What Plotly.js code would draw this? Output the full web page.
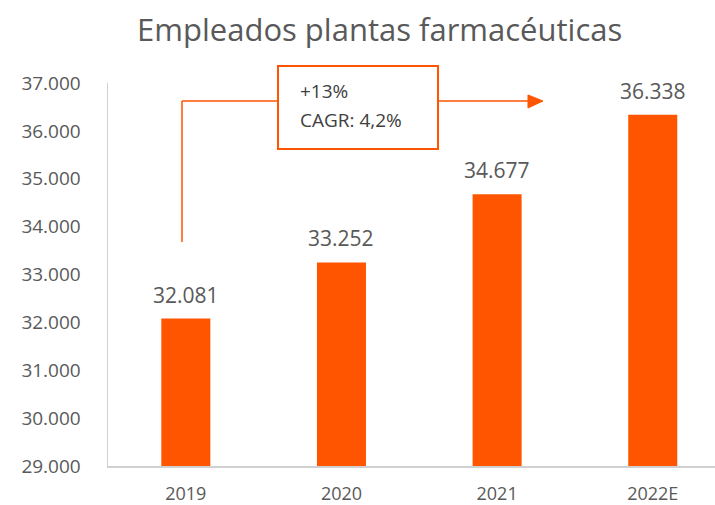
<!DOCTYPE html>
<html><head><meta charset="utf-8">
<script src="https://cdn.plot.ly/plotly-3.0.1.min.js"></script>
<style>html,body{margin:0;padding:0;background:#fff}</style>
</head><body>
<div id="chart" style="width:715px;height:505px"></div>
<script>
const categories = ["2019", "2020", "2021", "2022E"];
const empleados = [32081, 33252, 34677, 36338];
const yTicks = [29000, 30000, 31000, 32000, 33000, 34000, 35000, 36000, 37000];
const cagrLines = ["+13%", "CAGR: 4,2%"];

const orange = "#FF5500";
const gray = "#595959";
const font = "Open Sans, sans-serif";

const fmt = v => v.toLocaleString("de-DE");

const trace = {
  type: "bar", x: categories, y: empleados,
  marker: {color: orange}, width: 0.315,
  hoverinfo: "skip"
};

const annotations = categories.map((c, i) => ({
  x: i, y: empleados[i], xref: "x", yref: "y",
  text: fmt(empleados[i]), showarrow: false,
  yanchor: "bottom", yshift: 8,
  font: {family: font, size: 21, color: gray}
}));
annotations.push({
  xref: "paper", yref: "paper", x: 0.313, y: 0.980, xanchor: "left", yanchor: "middle",
  text: cagrLines[0], showarrow: false, font: {family: font, size: 19, color: "#404040"}
});
annotations.push({
  xref: "paper", yref: "paper", x: 0.313, y: 0.9034, xanchor: "left", yanchor: "middle",
  text: cagrLines[1], showarrow: false, font: {family: font, size: 19, color: "#404040"}
});

const lineStyle = {color: orange, width: 1.5};
const shapes = [
  {type: "line", xref: "paper", yref: "paper", x0: 0.1219, x1: 0.1219, y0: 0.5849, y1: 0.953, line: lineStyle},
  {type: "line", xref: "paper", yref: "paper", x0: 0.1219, x1: 0.2801, y0: 0.953, y1: 0.953, line: lineStyle},
  {type: "line", xref: "paper", yref: "paper", x0: 0.5437, x1: 0.695, y0: 0.953, y1: 0.953, line: lineStyle},
  {type: "path", xref: "paper", yref: "paper", path: "M 0.6919 0.9687 L 0.7166 0.953 L 0.6919 0.9347 Z",
   fillcolor: orange, line: {color: orange, width: 1}},
  {type: "rect", xref: "paper", yref: "paper", x0: 0.2801, x1: 0.5437, y0: 0.8277, y1: 1.0444,
   fillcolor: "white", line: {color: orange, width: 2}, layer: "below"}
];

const layout = {
  width: 715, height: 505,
  margin: {l: 108, r: 0, t: 83, b: 39},
  paper_bgcolor: "white", plot_bgcolor: "white",
  separators: ",.",
  title: {text: "Empleados plantas farmacéuticas", x: 0.531, xanchor: "center", y: 0.94, yanchor: "middle",
          font: {family: font, size: 31, color: gray}},
  showlegend: false,
  xaxis: {
    type: "category", range: [-0.5, 3.4],
    showline: true, linecolor: "#d0d0d0", linewidth: 1.5,
    showgrid: false, zeroline: false, ticks: "",
    ticklabelstandoff: 11,
    tickfont: {family: font, size: 18, color: gray}
  },
  yaxis: {
    range: [29000, 37000], tickvals: yTicks, tickformat: ",.0f",
    showline: true, linecolor: "#d0d0d0", linewidth: 1.5,
    showgrid: false, zeroline: false, ticks: "",
    ticklabelstandoff: 22,
    tickfont: {family: font, size: 19, color: gray}
  },
  annotations: annotations,
  shapes: shapes
};

Plotly.newPlot("chart", [trace], layout, {displayModeBar: false, staticPlot: true});
</script>
</body></html>
